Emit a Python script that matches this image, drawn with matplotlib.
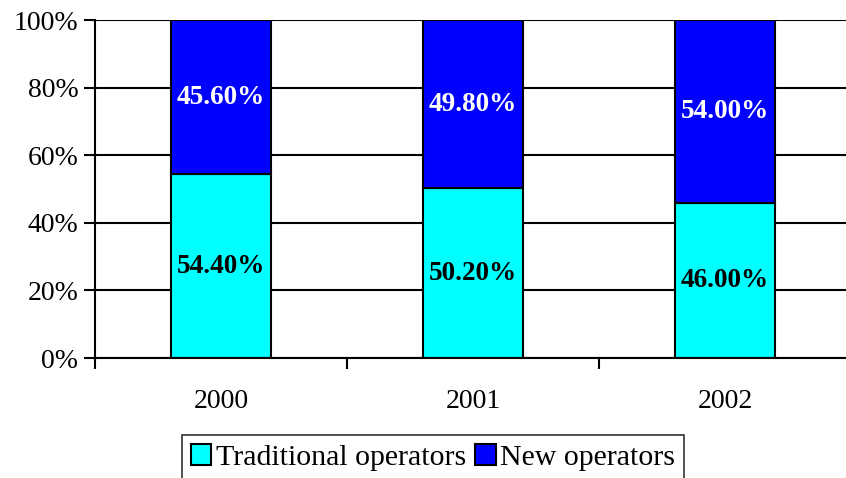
import matplotlib
matplotlib.use("Agg")
import matplotlib.pyplot as plt
from matplotlib.patches import Patch
from matplotlib.ticker import MultipleLocator, FixedLocator

years = ["2000", "2001", "2002"]
traditional = [54.40, 50.20, 46.00]
new_ops = [45.60, 49.80, 54.00]
series_names = ["Traditional operators", "New operators"]
colors = ["#00FFFF", "#0000FF"]

plt.rcParams['font.family'] = ['Liberation Serif', 'DejaVu Serif']

fig = plt.figure(figsize=(8.46, 4.78), dpi=100)
ax = fig.add_axes([95/846, 1-358/478, 756/846, 338/478])

x = list(range(len(years)))
b1 = ax.bar(x, traditional, width=0.4, color=colors[0], edgecolor="black", linewidth=1.5, zorder=3)
b2 = ax.bar(x, new_ops, width=0.4, bottom=traditional, color=colors[1], edgecolor="black", linewidth=1.5, zorder=3)

for i in x:
    ax.text(i, traditional[i] / 2, f"{traditional[i]:.2f}%", ha="center", va="center",
            fontsize=19.5, fontweight="bold", color="black", zorder=4)
    ax.text(i, traditional[i] + new_ops[i] / 2, f"{new_ops[i]:.2f}%", ha="center", va="center",
            fontsize=19.5, fontweight="bold", color="white", zorder=4)

ax.set_xlim(-0.5, len(years) - 0.5)
ax.set_ylim(0, 100)
ax.yaxis.set_major_locator(MultipleLocator(20))
ax.set_yticklabels([f"{int(v)}%" for v in ax.get_yticks()])
ax.grid(axis="y", color="black", linewidth=1.5, zorder=1)

ax.set_xticks(x)
ax.set_xticklabels(years)
ax.xaxis.set_minor_locator(FixedLocator([i - 0.5 for i in range(len(years) + 1)]))
ax.tick_params(axis="x", which="major", length=0, pad=22, labelsize=20)
ax.tick_params(axis="x", which="minor", length=8, width=1.5, direction="out")
ax.tick_params(axis="y", length=8, width=1.5, direction="out", labelsize=20, pad=4)

for s in ["top", "right"]:
    ax.spines[s].set_visible(False)
ax.spines["left"].set_linewidth(1.5)
ax.spines["bottom"].set_linewidth(1.5)
ax.spines["bottom"].set_zorder(5)

handles = [Patch(facecolor=c, edgecolor="black", linewidth=1.5) for c in colors]
leg = fig.legend(handles, series_names, loc="upper center", bbox_to_anchor=(433/846, 1-435/478),
                 ncol=2, fontsize=21.5, frameon=True, fancybox=False, edgecolor="black",
                 handlelength=0.7, handleheight=0.7, handletextpad=0.15, columnspacing=0.3,
                 borderpad=0.3, borderaxespad=0)
leg.get_frame().set_linewidth(1.2)

fig.savefig("out.png", dpi=100)
